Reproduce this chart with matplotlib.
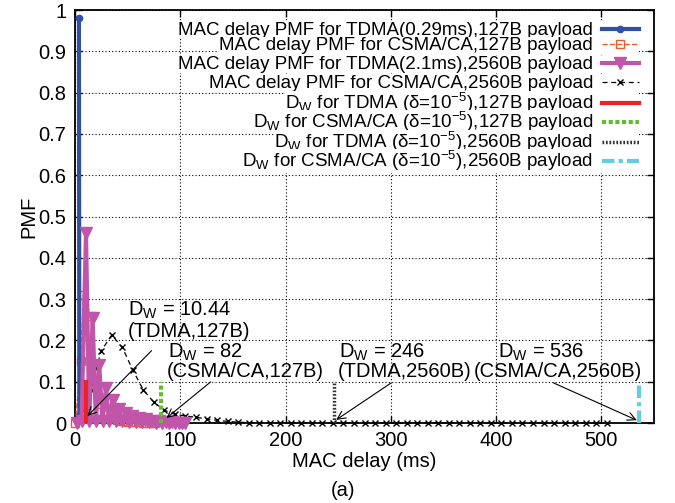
import matplotlib.pyplot as plt

plt.rcParams['font.family'] = ['Liberation Sans', 'DejaVu Sans']
plt.rcParams['mathtext.default'] = 'regular'
plt.rcParams['font.size'] = 14.5

# MAC delay PMF, TDMA (0.29ms slot), 127B payload
tdma127_x = [3.8, 4.2, 8.0, 12.0, 16.0, 20.0]
tdma127_y = [0.98, 0.018, 0.001, 0.0, 0.0, 0.0]

# MAC delay PMF, CSMA/CA, 127B payload
csma127_x = [0.5, 5.5, 8.0, 15.0, 20.0, 25.0, 30.0, 35.0, 40.0, 45.0, 50.0, 55.0, 60.0, 65.0, 70.0, 75.0]
csma127_y = [0.0, 0.15, 0.31, 0.26, 0.10, 0.045, 0.022, 0.012, 0.008, 0.005, 0.003, 0.002, 0.0015, 0.001, 0.001, 0.0]

# MAC delay PMF, TDMA (2.1ms slot), 2560B payload
tdma2560_x = [2.1, 6.3, 10.5, 13.6, 16.8, 19.9, 23.1, 26.2, 29.4, 32.5, 35.7, 38.8, 42.0, 45.1, 48.3,
              51.4, 54.6, 57.7, 60.9, 64.0, 67.2, 70.3, 73.5, 76.6, 79.8, 82.9, 86.1, 89.2, 92.4, 95.5,
              98.7, 101.8, 105.0]
tdma2560_y = [0.0, 0.004, 0.46, 0.004, 0.255, 0.004, 0.14, 0.004, 0.085, 0.004, 0.055, 0.004, 0.035, 0.004,
              0.025, 0.003, 0.017, 0.003, 0.012, 0.002, 0.009, 0.002, 0.006, 0.001, 0.004, 0.001, 0.003,
              0.001, 0.002, 0.0, 0.001, 0.0, 0.001]

# MAC delay PMF, CSMA/CA, 2560B payload
csma2560_x = [5, 15, 25, 35, 45, 55, 65, 75, 85, 95, 105, 115, 125, 135, 145, 155, 165, 175, 185, 195,
              205, 215, 225, 235, 245, 255, 265, 275, 285, 295, 305, 315, 325, 335, 345, 355, 365, 375,
              385, 395, 405, 415, 425, 435, 445, 455, 465, 475, 485, 495, 505]
csma2560_y = [0.005, 0.08, 0.175, 0.213, 0.183, 0.128, 0.08, 0.05, 0.031, 0.021, 0.017, 0.014, 0.010,
              0.0065, 0.004, 0.002, 0.001, 0.0007, 0.0005, 0.0004, 0.0003, 0.0003, 0.0002, 0.0002, 0.0002,
              0.0001, 0.0001, 0.0001, 0.0001, 0.0001, 0.0, 0.0, 0.0, 0.0, 0.0, 0.0, 0.0, 0.0, 0.0, 0.0,
              0.0, 0.0, 0.0, 0.0, 0.0, 0.0, 0.0, 0.0, 0.0, 0.0, 0.0]

# Delay bounds D_W (delta = 1e-5)
dw_values = [10.44, 82, 246, 536]
dw_top = [0.1, 0.1, 0.1, 0.1]
dw_names = ["(TDMA,127B)", "(CSMA/CA,127B)", "(TDMA,2560B)", "(CSMA/CA,2560B)"]

fig, ax = plt.subplots(figsize=(6.75, 5.03), dpi=100)
fig.subplots_adjust(left=0.111, right=0.969, bottom=0.159, top=0.980)

lines = []
lines += ax.plot(tdma127_x, tdma127_y, color='#3050a8', lw=3, marker='o', ms=4.5,
                 label='MAC delay PMF for TDMA(0.29ms),127B payload', zorder=4)
lines += ax.plot(csma127_x, csma127_y, color='#f05a30', lw=1, ls='--', marker='s', ms=6, mfc='none',
                 label='MAC delay PMF for CSMA/CA,127B payload', zorder=3, clip_on=False)
lines += ax.plot(tdma2560_x, tdma2560_y, color='#c055aa', lw=3, marker='v', ms=9,
                 label='MAC delay PMF for TDMA(2.1ms),2560B payload', zorder=5, clip_on=False)
lines += ax.plot(csma2560_x, csma2560_y, color='black', lw=0.9, ls=(0, (4, 3)), marker='x', ms=5,
                 label='MAC delay PMF for CSMA/CA,2560B payload', zorder=3, clip_on=False)

lines += ax.plot([dw_values[0]] * 2, [0, dw_top[0]], color='#ee2222', lw=3,
                 label=r'D$_W$ for TDMA ($\delta$=10$^{-5}$),127B payload', zorder=6)
lines += ax.plot([dw_values[1]] * 2, [0, dw_top[1]], color='#66bb33', lw=3, ls=(0, (1, 0.6)),
                 label=r'D$_W$ for CSMA/CA ($\delta$=10$^{-5}$),127B payload', zorder=6)
lines += ax.plot([dw_values[2]] * 2, [0, dw_top[2]], color='#333333', lw=2.5, ls=(0, (0.5, 0.5)),
                 label=r'D$_W$ for TDMA ($\delta$=10$^{-5}$),2560B payload', zorder=6)
lines += ax.plot([dw_values[3]] * 2, [0, dw_top[3]], color='#66ccdd', lw=3, ls=(0, (3, 1, 1, 1)),
                 label=r'D$_W$ for CSMA/CA ($\delta$=10$^{-5}$),2560B payload', zorder=6)

# annotations: text line 1, text line 2, arrow start, arrow end
text_pos = [(50, 0.274, 50, 0.222), (88, 0.172, 87, 0.124), (251, 0.172, 250, 0.124), (402, 0.172, 379, 0.124)]
arrow_from = [(74.6, 0.18), (131, 0.104), (302, 0.10), (452, 0.10)]
arrow_to = [(10, 0.012), (85, 0.008), (246, 0.004), (536, 0.004)]
for i in range(4):
    x1, y1, x2, y2 = text_pos[i]
    ax.text(x1, y1, 'D$_W$ = %g' % dw_values[i], ha='left', va='center', zorder=7)
    ax.text(x2, y2, dw_names[i], ha='left', va='center', zorder=7)
    ax.annotate('', xy=arrow_to[i], xytext=arrow_from[i],
                arrowprops=dict(arrowstyle='->', color='black', lw=0.8), zorder=7)

ax.set_xlim(0, 550)
ax.set_ylim(0, 1)
ax.set_xticks([0, 100, 200, 300, 400, 500])
ax.set_yticks([0, 0.1, 0.2, 0.3, 0.4, 0.5, 0.6, 0.7, 0.8, 0.9, 1])
ax.set_yticklabels(['0', '0.1', '0.2', '0.3', '0.4', '0.5', '0.6', '0.7', '0.8', '0.9', '1'])
ax.tick_params(direction='in', top=True, right=True, length=5, width=1, pad=6)
ax.grid(True, color='black', ls=(0, (1, 2)), lw=0.8)
for s in ax.spines.values():
    s.set_linewidth(1.3)
ax.set_xlabel('MAC delay (ms)', labelpad=1)
ax.set_ylabel('PMF', labelpad=0)

# gnuplot-style key: one row per entry, text right-aligned left of the sample
row_y = [0.950, 0.914, 0.868, 0.822, 0.774, 0.728, 0.680, 0.634]
for i, ln in enumerate(lines):
    leg = ax.legend([ln], [ln.get_label()], loc='center right',
                    bbox_to_anchor=(0.974, row_y[i]), markerfirst=False,
                    frameon=True, fancybox=False, edgecolor='none', facecolor='white',
                    framealpha=1, handlelength=2.0, handletextpad=0.45, borderpad=0,
                    borderaxespad=0, fontsize=13.5)
    leg.set_zorder(10)
    ax.add_artist(leg)

fig.text(0.508, 0.025, '(a)', ha='center', va='center')

fig.savefig('out.png')
